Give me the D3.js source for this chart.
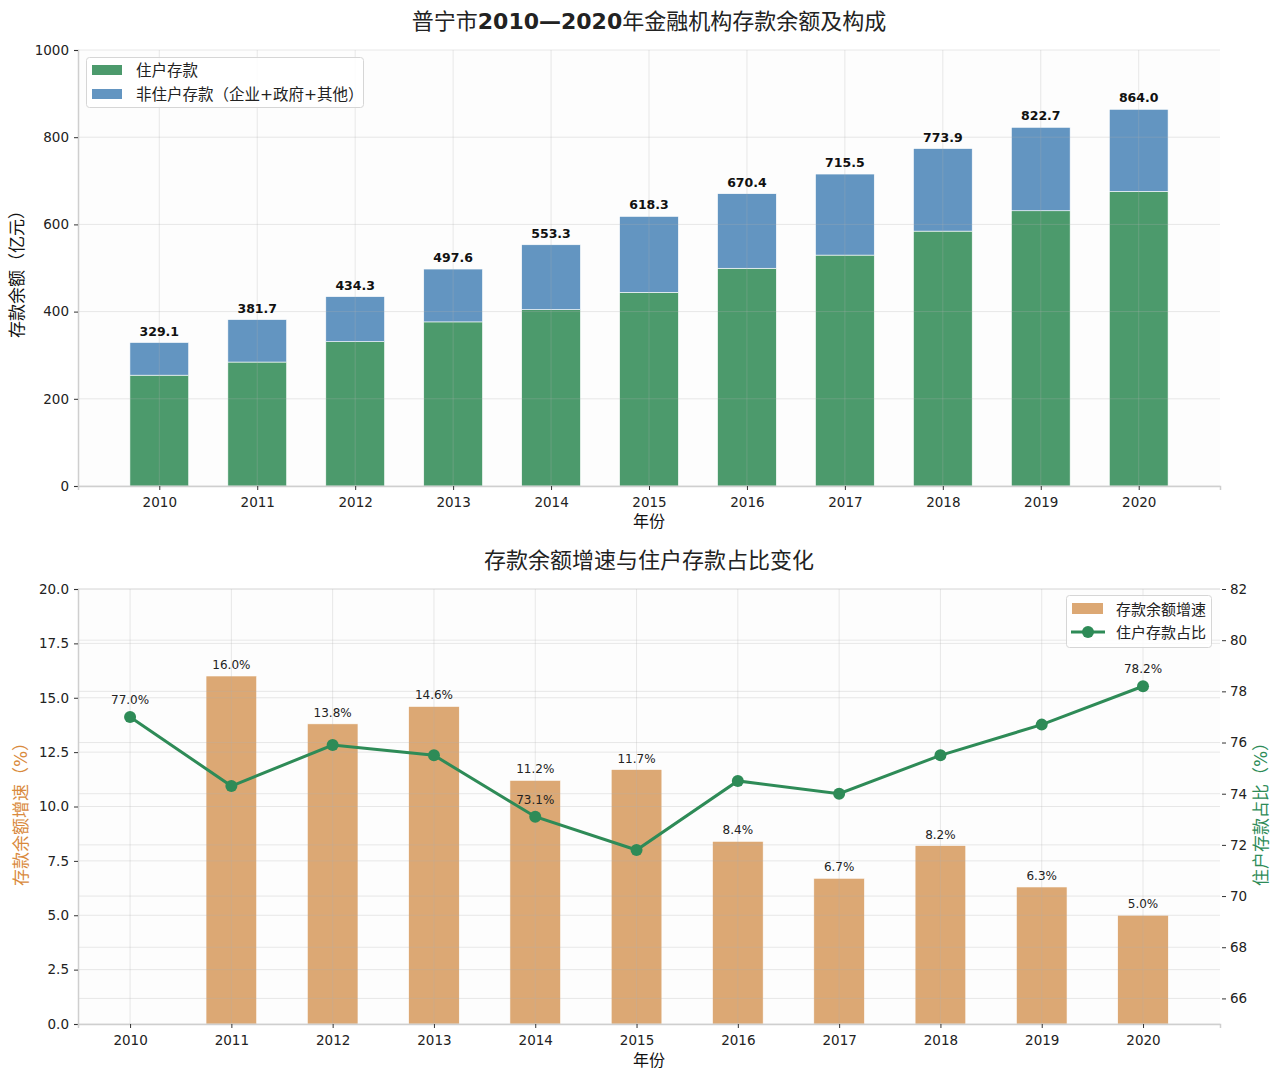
<!DOCTYPE html>
<html>
<head>
<meta charset="utf-8">
<script src="https://cdn.jsdelivr.net/npm/d3@7"></script>
<style>
  body { margin: 0; background: #fff; }
  text { font-family: "DejaVu Sans", "Noto Sans CJK SC", sans-serif; }
</style>
</head>
<body>
<svg id="chart"></svg>
<script>
// data
var years = ["2010","2011","2012","2013","2014","2015","2016","2017","2018","2019","2020"];
var totalDeposit = [329.1, 381.7, 434.3, 497.6, 553.3, 618.3, 670.4, 715.5, 773.9, 822.7, 864.0];
var householdDeposit = [254.2, 284.3, 331.0, 376.4, 404.5, 444.1, 499.4, 529.6, 584.6, 631.3, 675.6];
var growthRate = [null, 16.0, 13.8, 14.6, 11.2, 11.7, 8.4, 6.7, 8.2, 6.3, 5.0];
var householdShare = [77.0, 74.3, 75.9, 75.5, 73.1, 71.8, 74.5, 74.0, 75.5, 76.7, 78.2];
var shareLabelIdx = [0, 4, 10];
var topTicks = [0, 200, 400, 600, 800, 1000];
var leftTicks = [0, 2.5, 5, 7.5, 10, 12.5, 15, 17.5, 20];
var rightTicks = [66, 68, 70, 72, 74, 76, 78, 80, 82];

var W = 1280, H = 1081;
var svg = d3.select("#chart").attr("width", W).attr("height", H);

var col = {green: "#4c9a6c", blue: "#6395c1", orange: "#dca874", line: "#2e8b57",
           orangeTxt: "#d98a3d", spine: "#cfcfcf", tick: "#333"};

//helper for grid lines drawn over the bars
function grid(g, xs, ys, x0, x1, y0, y1){
  g.selectAll(null).data(xs).enter().append("line")
    .attr("x1", function(d){return d;}).attr("x2", function(d){return d;})
    .attr("y1", y0).attr("y2", y1)
    .attr("stroke", "#b0b0b0").attr("stroke-opacity", 0.28).attr("stroke-width", 1);
  g.selectAll(null).data(ys).enter().append("line")
    .attr("x1", x0).attr("x2", x1)
    .attr("y1", function(d){return d;}).attr("y2", function(d){return d;})
    .attr("stroke", "#b0b0b0").attr("stroke-opacity", 0.28).attr("stroke-width", 1);
}

function styleAxis(a){
  a.select(".domain").attr("stroke", col.spine).attr("stroke-width", 1.5);
  a.selectAll(".tick line").attr("stroke", col.tick);
  a.selectAll(".tick text").attr("font-size", 13.5).attr("fill", "#222")
    .attr("font-family", "'DejaVu Sans', sans-serif");
}

// ---------------- top chart ----------------
var p1 = {left: 78, right: 1220, top: 50, bottom: 486};
var x1 = d3.scaleLinear().domain([-0.83, 10.83]).range([p1.left, p1.right]);
var y1 = d3.scaleLinear().domain([0, 1000]).range([p1.bottom, p1.top]);
var bw1 = x1(0.6) - x1(0);

var g1 = svg.append("g");
g1.append("rect").attr("x", p1.left).attr("y", p1.top)
  .attr("width", p1.right - p1.left).attr("height", p1.bottom - p1.top).attr("fill", "#fdfdfd");

g1.selectAll("rect.hh").data(householdDeposit).enter().append("rect")
  .attr("class", "hh")
  .attr("x", function(d,i){return x1(i) - bw1/2;})
  .attr("y", function(d){return y1(d);})
  .attr("width", bw1)
  .attr("height", function(d){return y1(0) - y1(d);})
  .attr("fill", col.green).attr("stroke", "#fff").attr("stroke-width", 0.6);

g1.selectAll("rect.other").data(totalDeposit).enter().append("rect")
  .attr("class", "other")
  .attr("x", function(d,i){return x1(i) - bw1/2;})
  .attr("y", function(d){return y1(d);})
  .attr("width", bw1)
  .attr("height", function(d,i){return y1(householdDeposit[i]) - y1(d);})
  .attr("fill", col.blue).attr("stroke", "#fff").attr("stroke-width", 0.6);

grid(g1, years.map(function(d,i){return x1(i);}), topTicks.map(function(d){return y1(d);}),
     p1.left, p1.right, p1.top, p1.bottom);

g1.selectAll("text.tot").data(totalDeposit).enter().append("text")
  .attr("x", function(d,i){return x1(i);})
  .attr("y", function(d){return y1(d) - 7;})
  .attr("text-anchor", "middle").attr("font-size", 12.5).attr("font-weight", "bold")
  .attr("fill", "#111")
  .text(function(d){return d.toFixed(1);});

// axes
var ax1 = g1.append("g").attr("transform", "translate(" + p1.left + ",0)")
  .call(d3.axisLeft(y1).tickValues(topTicks).tickSize(4).tickPadding(5).tickFormat(d3.format("d")));
var ax1b = g1.append("g").attr("transform", "translate(0," + p1.bottom + ")")
  .call(d3.axisBottom(x1).tickValues(d3.range(years.length)).tickSize(4).tickPadding(7)
    .tickFormat(function(i){return years[i];}));
styleAxis(ax1); styleAxis(ax1b);

g1.append("text").attr("transform", "translate(23,270) rotate(-90)")
  .attr("text-anchor", "middle").attr("font-size", 17).attr("fill", "#111")
  .text("存款余额（亿元）");
g1.append("text").attr("x", 649).attr("y", 527)
  .attr("text-anchor", "middle").attr("font-size", 16).attr("fill", "#111").text("年份");

// legend top
var lg1 = g1.append("g");
lg1.append("rect").attr("x", 86.5).attr("y", 57.5).attr("width", 277).attr("height", 50).attr("rx", 3)
  .attr("fill", "#fff").attr("fill-opacity", 0.85).attr("stroke", "#d6d6d6");
[["住户存款", col.green], ["非住户存款（企业+政府+其他）", col.blue]].forEach(function(d, i){
  lg1.append("rect").attr("x", 92).attr("y", 65 + i*24).attr("width", 30).attr("height", 10).attr("fill", d[1]);
  lg1.append("text").attr("x", 136).attr("y", 75.5 + i*24).attr("font-size", 15.5).attr("fill", "#222").text(d[0]);
});

// title with bold latin parts
var t1 = svg.append("text").attr("x", 649).attr("y", 29).attr("text-anchor", "middle")
  .attr("font-size", 22).attr("fill", "#222");
[["普宁市", false], ["2010—2020", true], ["年金融机构存款余额及构成", false]].forEach(function(p){
  t1.append("tspan").attr("font-weight", p[1] ? "bold" : "normal").text(p[0]);
});

// ---------------- bottom chart ----------------
var p2 = {left: 78, right: 1220, top: 589, bottom: 1024};
var x2 = d3.scaleLinear().domain([-0.514, 10.76]).range([p2.left, p2.right]);
var y2 = d3.scaleLinear().domain([0, 20]).range([p2.bottom, p2.top]);
var y3 = d3.scaleLinear().domain([65, 82]).range([p2.bottom, p2.top]);
var bw2 = x2(0.5) - x2(0);

var g2 = svg.append("g");
g2.append("rect").attr("x", p2.left).attr("y", p2.top)
  .attr("width", p2.right - p2.left).attr("height", p2.bottom - p2.top).attr("fill", "#fdfdfd");

var growthData = growthRate.map(function(v, i){return {i: i, v: v};})
  .filter(function(d){return d.v !== null;});

g2.selectAll("rect.gr").data(growthData).enter().append("rect")
  .attr("class", "gr")
  .attr("x", function(d){return x2(d.i) - bw2/2;})
  .attr("y", function(d){return y2(d.v);})
  .attr("width", bw2)
  .attr("height", function(d){return y2(0) - y2(d.v);})
  .attr("fill", col.orange).attr("stroke", "#fff").attr("stroke-width", 0.6);

grid(g2, years.map(function(d,i){return x2(i);}),
     leftTicks.map(function(d){return y2(d);}).concat(rightTicks.map(function(d){return y3(d);})),
     p2.left, p2.right, p2.top, p2.bottom);

g2.selectAll("text.gr").data(growthData).enter().append("text")
  .attr("x", function(d){return x2(d.i);})
  .attr("y", function(d){return y2(d.v) - 7;})
  .attr("text-anchor", "middle").attr("font-size", 12).attr("fill", "#222")
  .text(function(d){return d.v.toFixed(1) + "%";});

var line = d3.line().x(function(d,i){return x2(i);}).y(function(d){return y3(d);});
g2.append("path").datum(householdShare).attr("d", line)
  .attr("fill", "none").attr("stroke", col.line).attr("stroke-width", 3);
g2.selectAll("circle.sh").data(householdShare).enter().append("circle")
  .attr("cx", function(d,i){return x2(i);}).attr("cy", function(d){return y3(d);})
  .attr("r", 6).attr("fill", col.line);

g2.selectAll("text.sh").data(shareLabelIdx).enter().append("text")
  .attr("x", function(i){return x2(i);})
  .attr("y", function(i){return y3(householdShare[i]) - 13;})
  .attr("text-anchor", "middle").attr("font-size", 12).attr("fill", "#222")
  .text(function(i){return householdShare[i].toFixed(1) + "%";});

var ax2 = g2.append("g").attr("transform", "translate(" + p2.left + ",0)")
  .call(d3.axisLeft(y2).tickValues(leftTicks).tickSize(4).tickPadding(5).tickFormat(d3.format(".1f")));
var ax2b = g2.append("g").attr("transform", "translate(0," + p2.bottom + ")")
  .call(d3.axisBottom(x2).tickValues(d3.range(years.length)).tickSize(4).tickPadding(7)
    .tickFormat(function(i){return years[i];}));
var ax2r = g2.append("g").attr("transform", "translate(" + p2.right + ",0)")
  .call(d3.axisRight(y3).tickValues(rightTicks).tickSize(0).tickPadding(10).tickFormat(d3.format("d")));
ax2r.select(".domain").remove();
ax2r.selectAll(".tick").append("line").attr("x1", 2).attr("x2", 6).attr("stroke", col.tick);
styleAxis(ax2); styleAxis(ax2b); styleAxis(ax2r);

g2.append("text").attr("transform", "translate(27,810) rotate(-90)")
  .attr("text-anchor", "middle").attr("font-size", 17).attr("fill", col.orangeTxt)
  .text("存款余额增速（%）");
g2.append("text").attr("transform", "translate(1267,810) rotate(-90)")
  .attr("text-anchor", "middle").attr("font-size", 17).attr("fill", col.line)
  .text("住户存款占比（%）");
g2.append("text").attr("x", 649).attr("y", 1066)
  .attr("text-anchor", "middle").attr("font-size", 16).attr("fill", "#111").text("年份");

svg.append("text").attr("x", 649).attr("y", 568).attr("text-anchor", "middle")
  .attr("font-size", 22).attr("fill", "#222").text("存款余额增速与住户存款占比变化");

// legend bottom
var lg2 = g2.append("g");
lg2.append("rect").attr("x", 1066.5).attr("y", 595.5).attr("width", 145).attr("height", 52).attr("rx", 3)
  .attr("fill", "#fff").attr("fill-opacity", 0.85).attr("stroke", "#d6d6d6");
lg2.append("rect").attr("x", 1072).attr("y", 603).attr("width", 31).attr("height", 11).attr("fill", col.orange);
lg2.append("text").attr("x", 1116).attr("y", 614.5).attr("font-size", 15).attr("fill", "#222").text("存款余额增速");
lg2.append("line").attr("x1", 1071).attr("x2", 1105).attr("y1", 632).attr("y2", 632)
  .attr("stroke", col.line).attr("stroke-width", 3);
lg2.append("circle").attr("cx", 1088).attr("cy", 632).attr("r", 6).attr("fill", col.line);
lg2.append("text").attr("x", 1116).attr("y", 637.5).attr("font-size", 15).attr("fill", "#222").text("住户存款占比");
</script>
</body>
</html>
